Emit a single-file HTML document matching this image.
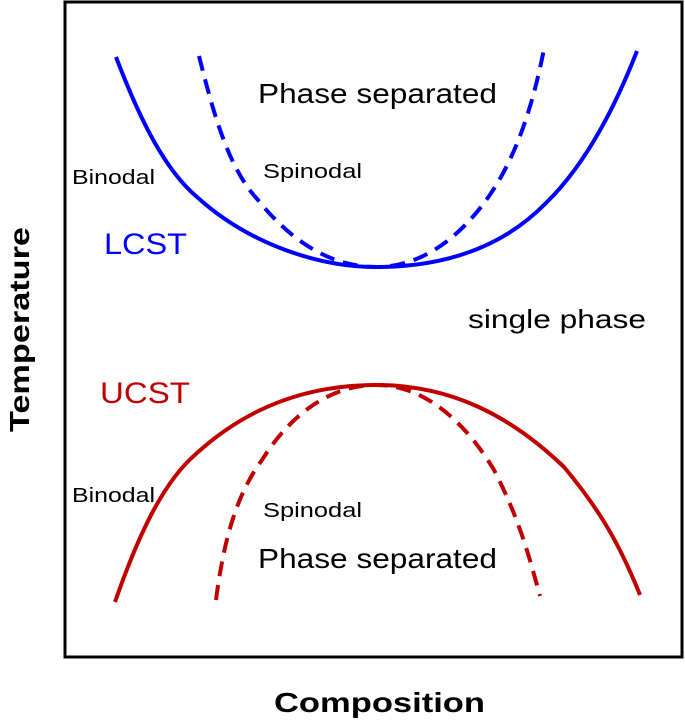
<!DOCTYPE html>
<html><head><meta charset="utf-8"><style>
html,body{margin:0;padding:0;background:#fff;}
svg{display:block;}
text{font-family:"Liberation Sans",Arial,sans-serif;}
</style></head><body>
<svg width="685" height="721" viewBox="0 0 685 721" xmlns="http://www.w3.org/2000/svg">
<rect x="65" y="2" width="617" height="655" fill="none" stroke="#000" stroke-width="3"/>
<g fill="none" stroke-width="4" stroke-linecap="butt">
<path stroke="#0000ff" d="M116,57 C140,120 165,170 197,197 C250,245 320,267 376,267 C440,267 500,250 546,203 C580,170 610,120 637,51"/>
<path stroke="#0000ff" stroke-dasharray="15,9" d="M199,56 C215,120 230,170 258,200 C290,240 330,267 376,267 C420,267 455,240 481,207 C510,170 530,120 544,49"/>
<path stroke="#c00000" d="M115,602 C140,530 165,480 197,453 C250,405 310,385 376,385 C450,385 510,415 564,467 C600,510 620,545 640,595"/>
<path stroke="#c00000" stroke-dasharray="15,9" d="M216,600 C225,530 240,490 262,460 C290,415 330,385 376,385 C430,385 470,430 494,470 C520,520 530,560 540,596"/>
</g>
<g fill="#000">
<text x="258" y="103" font-size="28" textLength="239" lengthAdjust="spacingAndGlyphs">Phase separated</text>
<text x="72" y="184" font-size="20" textLength="83" lengthAdjust="spacingAndGlyphs">Binodal</text>
<text x="263" y="178" font-size="20" textLength="99" lengthAdjust="spacingAndGlyphs">Spinodal</text>
<text x="468" y="328" font-size="26" textLength="178" lengthAdjust="spacingAndGlyphs">single phase</text>
<text x="72" y="502" font-size="20" textLength="83" lengthAdjust="spacingAndGlyphs">Binodal</text>
<text x="263" y="517" font-size="20" textLength="99" lengthAdjust="spacingAndGlyphs">Spinodal</text>
<text x="258" y="568" font-size="28" textLength="239" lengthAdjust="spacingAndGlyphs">Phase separated</text>
<text x="274" y="712" font-size="28" font-weight="bold" textLength="211" lengthAdjust="spacingAndGlyphs">Composition</text>
<text transform="translate(29,432) rotate(-90)" font-size="28" font-weight="bold" textLength="205" lengthAdjust="spacingAndGlyphs">Temperature</text>
</g>
<text x="104" y="254" font-size="30" fill="#0000ff" textLength="83" lengthAdjust="spacingAndGlyphs">LCST</text>
<text x="100" y="403" font-size="30" fill="#c00000" textLength="90" lengthAdjust="spacingAndGlyphs">UCST</text>
</svg>
</body></html>
